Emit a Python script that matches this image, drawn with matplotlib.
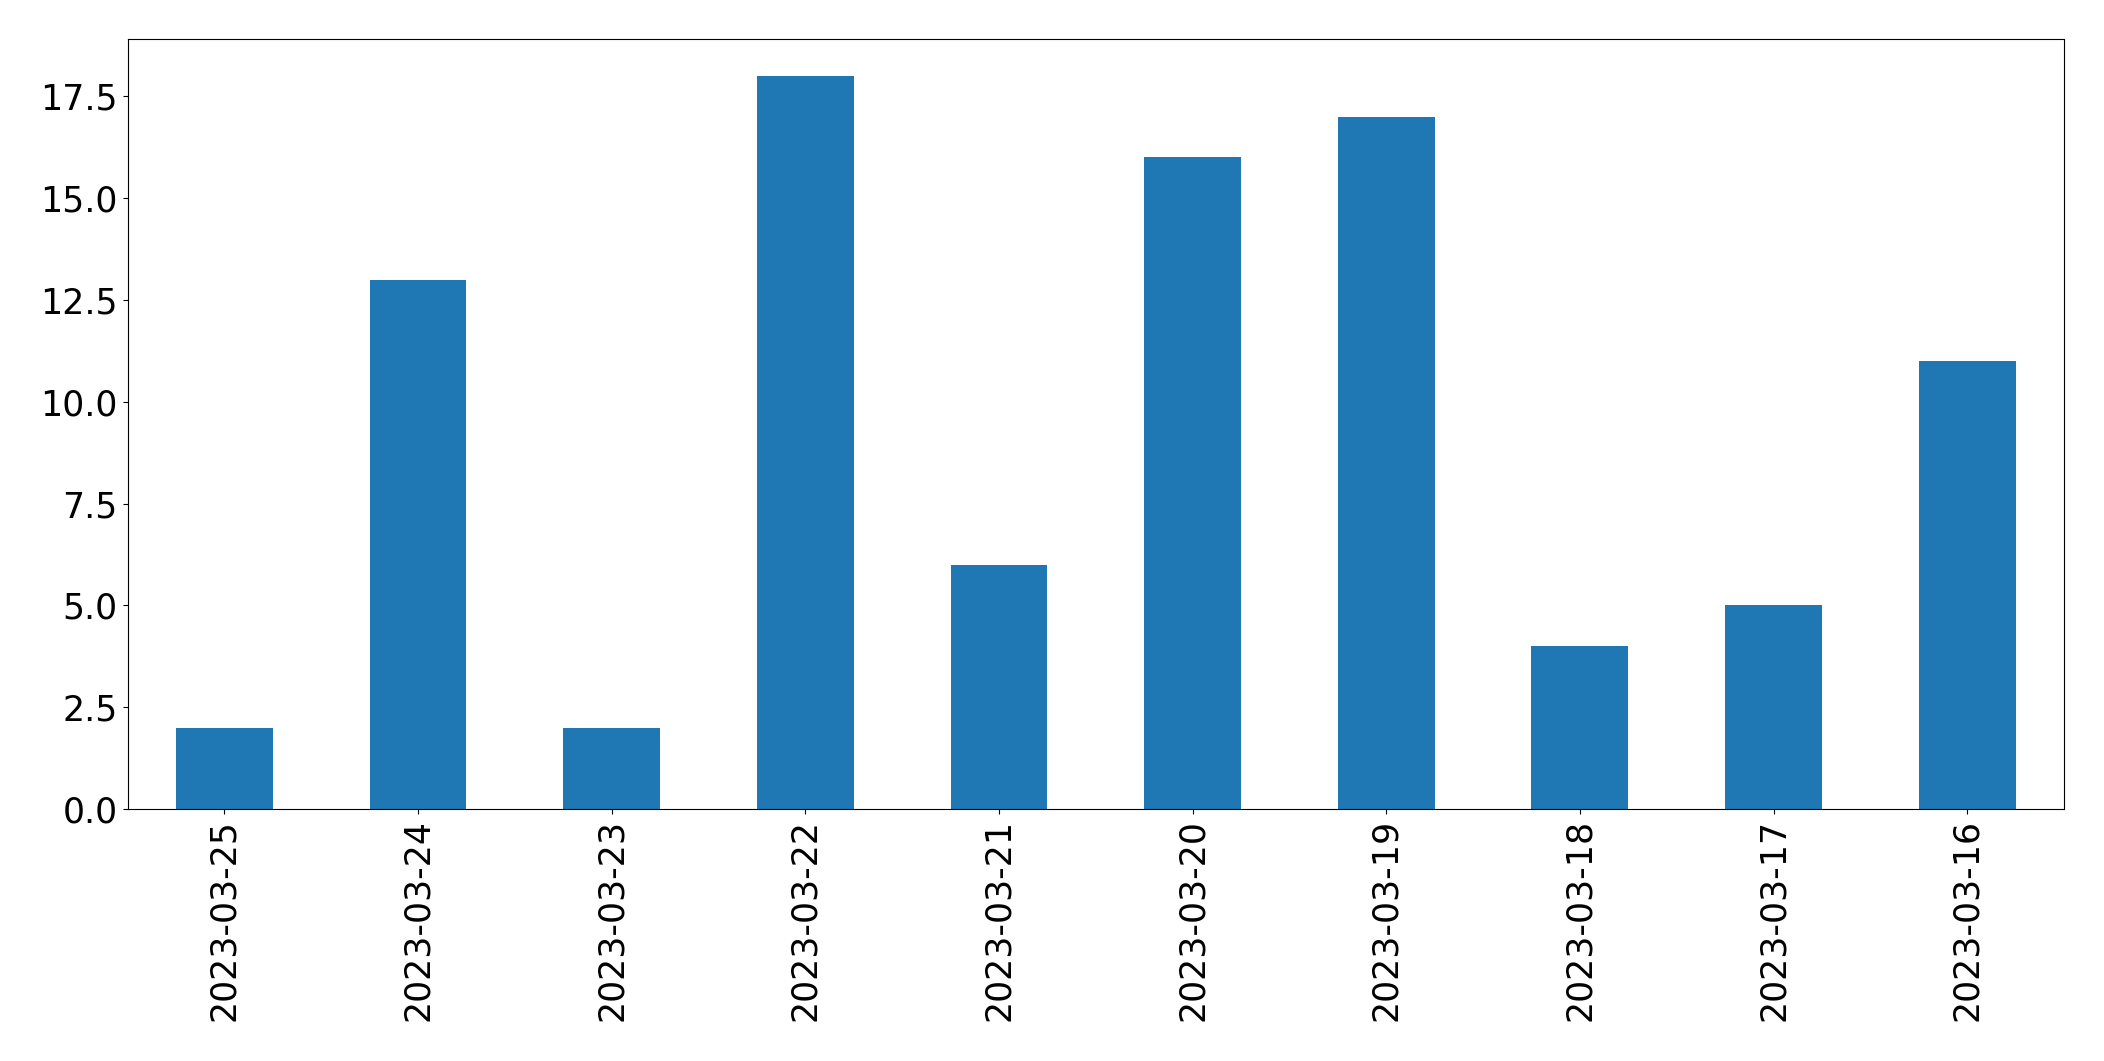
import pandas as pd
import matplotlib
matplotlib.use("Agg")
import matplotlib.pyplot as plt

# ── Data ──────────────────────────────────────────────────────────────────────
dates  = ["2023-03-25", "2023-03-24", "2023-03-23", "2023-03-22", "2023-03-21",
          "2023-03-20", "2023-03-19", "2023-03-18", "2023-03-17", "2023-03-16"]
counts = [2, 13, 2, 18, 6, 16, 17, 4, 5, 11]

s = pd.Series(counts, index=dates)

plt.rcParams.update({"font.size": 25})

fig, ax = plt.subplots(figsize=(21.04, 10.61), dpi=100)
s.plot(kind="bar", ax=ax, color="#1f77b4")
ax.tick_params(labelsize=25)
fig.subplots_adjust(left=0.0606, right=0.981, top=0.963, bottom=0.2375)
fig.savefig("out.png", dpi=100)
